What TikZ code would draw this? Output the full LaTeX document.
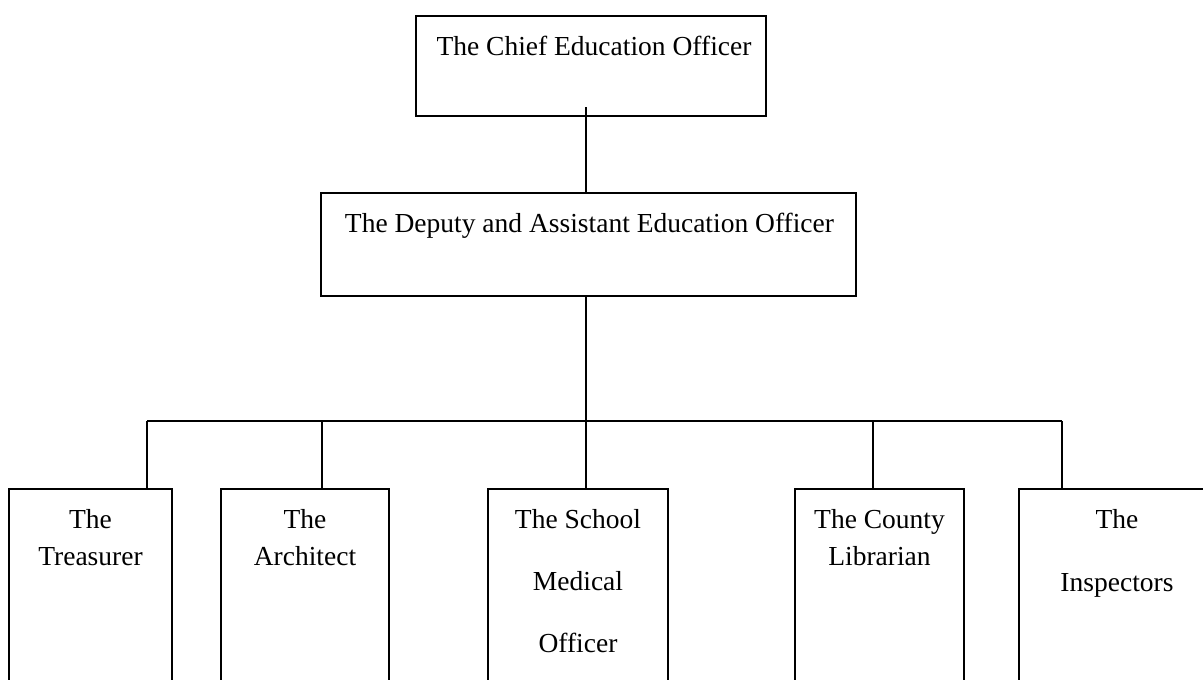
\documentclass[tikz,border=0pt]{standalone}
\usepackage{fontspec}
\setmainfont{Liberation Serif}
\begin{document}
\begin{tikzpicture}[x=1pt,y=-1pt,
  orgbox/.style={draw, line width=1.6pt, rectangle, inner sep=0pt, outer sep=0pt},
  orgtext/.style={inner sep=0pt, anchor=north, align=center,
    font=\fontsize{27.5}{37}\selectfont},
  link/.style={line width=1.6pt}]
\useasboundingbox (0,0) rectangle (1203,680);
\clip (0,0) rectangle (1203,680);

% upper levels
\node[orgbox, minimum width=350pt, minimum height=100pt] (chief) at (591,66) {};
\node[orgbox, minimum width=535pt, minimum height=103pt] (dep) at (588.5,244.5) {};
\node[orgtext] (chiefT) at (594,36) {The Chief Education Officer};
\node[orgtext] (depT) at (589.5,213) {The Deputy and Assistant Education Officer};

% lower level (boxes run past the bottom edge)
\node[orgbox, minimum width=163pt, minimum height=211pt] (tre) at (90.5,594.5) {};
\node[orgbox, minimum width=168pt, minimum height=211pt] (arc) at (305,594.5) {};
\node[orgbox, minimum width=180pt, minimum height=211pt] (med) at (578,594.5) {};
\node[orgbox, minimum width=169pt, minimum height=211pt] (cty) at (879.5,594.5) {};
\node[orgbox, minimum width=196pt, minimum height=211pt] (ins) at (1117,594.5) {};

\node[orgtext] (treT) at (90.5,509) {The\\Treasurer};
\node[orgtext] (arcT) at (305,509) {The\\Architect};
\node[orgtext] (medT) at (578,509) {The School\\[25pt]Medical\\[25pt]Officer};
\node[orgtext] (ctyT) at (879.5,509) {The County\\Librarian};
\node[orgtext] (insT) at (1117,509) {The\\[26pt]Inspectors};

% connectors
\coordinate (hub) at (586,421);
\coordinate (d1) at (147,421);
\coordinate (d2) at (322,421);
\coordinate (d4) at (873,421);
\coordinate (d5) at (1062,421);

\draw[link] ([yshift=9pt]chief.south -| hub) -- (hub |- dep.north);
\draw[link] (hub |- dep.south) -- (hub);
\draw[link] (d1) -- (d5);
\draw[link] (d1) -- (d1 |- tre.north);
\draw[link] (d2) -- (d2 |- arc.north);
\draw[link] (hub) -- (hub |- med.north);
\draw[link] (d4) -- (d4 |- cty.north);
\draw[link] (d5) -- (d5 |- ins.north);
\end{tikzpicture}
\end{document}
